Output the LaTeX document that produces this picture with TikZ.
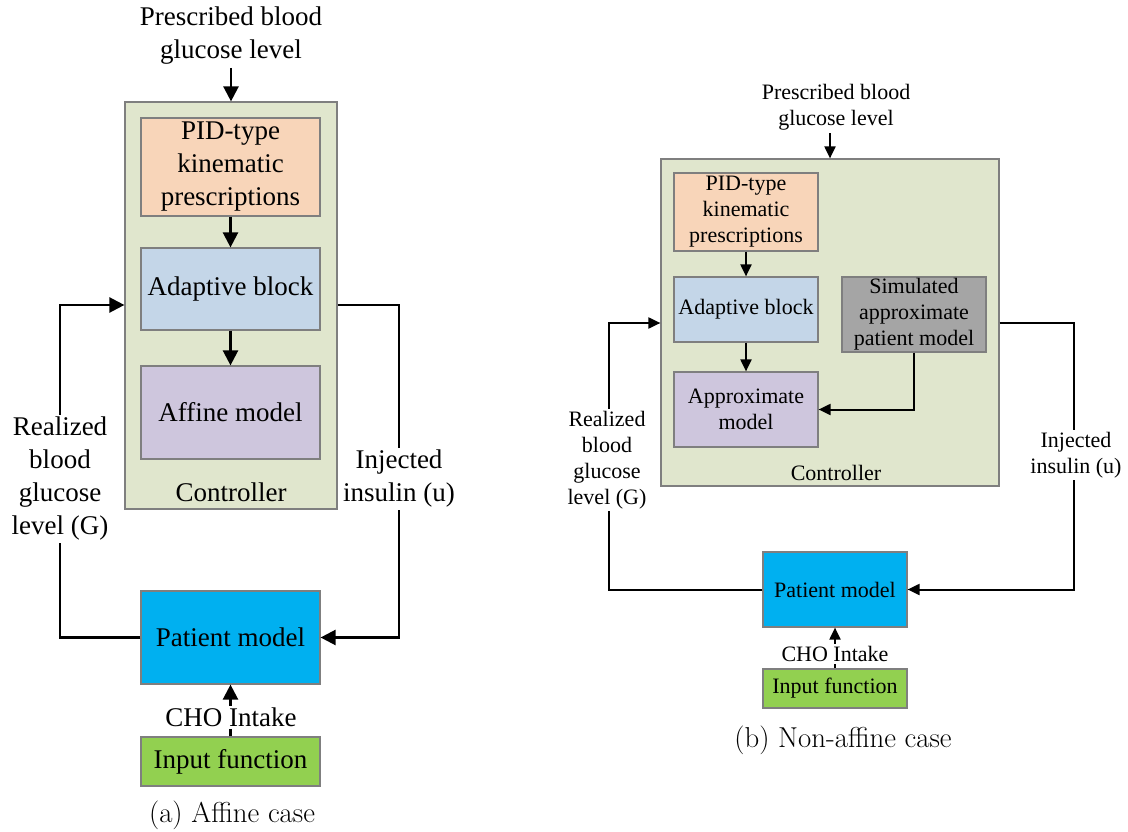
\documentclass[tikz,border=0pt]{standalone}
\usepackage{fontspec}
\newfontfamily\tnr{Liberation Serif}
\usetikzlibrary{arrows.meta}
\definecolor{ctrlc}{HTML}{E0E6CD}
\definecolor{pidc}{HTML}{F8D5B9}
\definecolor{adac}{HTML}{C4D6E8}
\definecolor{affc}{HTML}{CEC6DD}
\definecolor{patc}{HTML}{00B0F0}
\definecolor{inpc}{HTML}{92D050}
\definecolor{simc}{HTML}{A5A5A5}
\definecolor{bordc}{HTML}{7F7F7F}
\tikzset{
  box/.style={draw=bordc, line width=1.2pt, inner sep=0pt, align=center},
  fa/.style={font=\tnr\fontsize{27}{33}\selectfont},
  fb/.style={font=\tnr\fontsize{22}{26}\selectfont},
  lbl/.style={align=center, inner sep=3pt},
  wlbl/.style={align=center, inner sep=2pt, fill=white},
  arra/.style={line width=2.4pt, -{Triangle[length=15pt,width=15pt]}},
  arrb/.style={line width=2pt, -{Triangle[length=12pt,width=11pt]}},
  capt/.style={font=\fontsize{28.8}{33}\selectfont}
}
\begin{document}
\begin{tikzpicture}[x=1pt,y=-1pt]
\useasboundingbox (0,0) rectangle (1128,832);
% ---------------- (a) ----------------
\node[lbl,fa] (pre_a) at (231,36) {Prescribed blood\\glucose level};
\node[box,fill=ctrlc,minimum width=212,minimum height=407] (ctrl_a) at (231,305.5) {};
\node[box,fill=pidc,fa,minimum width=179,minimum height=98] (pid_a) at (230.5,167) {PID-type\\kinematic\\prescriptions};
\node[box,fill=adac,fa,minimum width=179,minimum height=82] (ada_a) at (230.5,289) {Adaptive block};
\node[box,fill=affc,fa,minimum width=179,minimum height=93] (aff_a) at (230.5,412.5) {Affine model};
\node[lbl,fa] (ctl_a) at (231,492) {Controller};
\node[box,fill=patc,fa,minimum width=179,minimum height=93] (pat_a) at (230.5,637.5) {Patient model};
\node[box,fill=inpc,fa,minimum width=179,minimum height=49] (inp_a) at (230.5,761.5) {Input function};
\node[capt] (cap_a) at (232,815) {(a) Affine case};
\coordinate (lfa) at (60,305);
\coordinate (rfa) at (399,305);
\draw[arra] (pre_a.south) -- (ctrl_a.north);
\draw[arra] (pid_a.south) -- (ada_a.north);
\draw[arra] (ada_a.south) -- (aff_a.north);
\draw[arra] (pat_a.west) -| (lfa) -- (ctrl_a.west |- lfa);
\draw[arra] (ctrl_a.east |- rfa) -- (rfa) |- (pat_a.east);
\draw[arra] (inp_a.north) -- (pat_a.south);
\node[wlbl,fa] (rea_a) at (60,479) {Realized\\blood\\glucose\\level (G)};
\node[wlbl,fa] (inj_a) at (399,479) {Injected\\insulin (u)};
\node[wlbl,fa] (cho_a) at (231,717) {CHO Intake};
% ---------------- (b) ----------------
\node[lbl,fb] (pre_b) at (836,107) {Prescribed blood\\glucose level};
\node[box,fill=ctrlc,minimum width=338,minimum height=327] (ctrl_b) at (830,322.5) {};
\node[box,fill=pidc,fb,minimum width=144,minimum height=78] (pid_b) at (746,212) {PID-type\\kinematic\\prescriptions};
\node[box,fill=adac,fb,minimum width=144,minimum height=65] (ada_b) at (746,309.5) {Adaptive block};
\node[box,fill=simc,fb,minimum width=144,minimum height=75] (sim_b) at (914,314.5) {Simulated\\approximate\\patient model};
\node[box,fill=affc,fb,minimum width=144,minimum height=75] (apx_b) at (746,409.5) {Approximate\\model};
\node[lbl,fb] (ctl_b) at (836,473) {Controller};
\node[box,fill=patc,fb,minimum width=144,minimum height=75] (pat_b) at (835,589.5) {Patient model};
\node[box,fill=inpc,fb,minimum width=144,minimum height=39] (inp_b) at (835,688.5) {Input function};
\node[capt] (cap_b) at (843,740) {(b) Non-affine case};
\coordinate (lfb) at (609,323);
\coordinate (rfb) at (1074,323);
\draw[arrb] (ctrl_b.north |- pre_b.south) -- (ctrl_b.north);
\draw[arrb] (pid_b.south) -- (ada_b.north);
\draw[arrb] (ada_b.south) -- (apx_b.north);
\draw[arrb] (sim_b.south) |- (apx_b.east);
\draw[arrb] (pat_b.west) -| (lfb) -- (ctrl_b.west |- lfb);
\draw[arrb] (ctrl_b.east |- rfb) -- (rfb) |- (pat_b.east);
\draw[arrb] (inp_b.north) -- (pat_b.south);
\node[wlbl,fb] (rea_b) at (607,460) {Realized\\blood\\glucose\\level (G)};
\node[wlbl,fb] (inj_b) at (1076,455) {Injected\\insulin (u)};
\node[wlbl,fb] (cho_b) at (835,654) {CHO Intake};
\end{tikzpicture}
\end{document}
